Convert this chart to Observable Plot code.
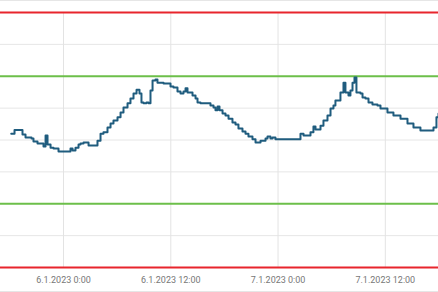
<!DOCTYPE html>
<html>
<head>
<meta charset="utf-8">
<script src="https://cdn.jsdelivr.net/npm/d3@7"></script>
<script src="https://cdn.jsdelivr.net/npm/@observablehq/plot@0.6"></script>
<style>
  html, body { margin: 0; padding: 0; background: #fff; }
  #chart { width: 438px; border-top: 1px solid #e6e6e6; border-bottom: 1px solid #e6e6e6; }
  #chart svg { display: block; }
</style>
</head>
<body>
<div id="chart"></div>
<script>
// hours after 6.1.2023 0:00
const hours = [-5.85,-5.48,-4.92,-4.59,-4.25,-3.58,-3.36,-2.91,-2.46,-2.24,-2.01,-1.79,-1.45,-1.12,-0.56,0.56,0.78,1.01,1.34,1.68,1.90,2.24,2.57,2.80,3.58,3.80,4.14,4.47,4.92,5.26,5.59,6.04,6.38,6.71,7.16,7.49,7.83,8.17,8.50,8.72,8.95,9.28,9.51,9.73,9.96,10.29,10.51,10.85,11.19,11.63,11.97,12.30,12.75,13.09,13.42,13.65,13.87,14.21,14.43,14.77,14.99,15.32,15.66,16.11,16.44,16.78,17.00,17.23,17.45,17.79,18.12,18.46,18.90,19.24,19.57,20.02,20.36,20.69,21.14,21.48,21.81,22.04,22.60,22.82,23.15,23.38,23.71,26.29,26.51,26.85,27.29,27.63,27.96,28.19,28.52,28.75,29.08,29.53,29.87,30.20,30.42,30.98,31.32,31.54,31.88,32.10,32.33,32.55,32.77,33.22,33.45,33.78,34.12,34.56,35.12,35.46,36.24,36.91,37.70,38.48,39.15,39.93,40.49,41.05,41.39,41.72,41.95,42.30];
const values = [52.0,53.1,53.1,51.7,50.8,50.5,49.5,48.9,48.9,48.0,51.4,48.6,47.6,47.3,46.4,46.4,47.3,46.7,47.6,48.6,48.9,49.2,49.2,48.3,48.3,49.8,52.0,52.4,53.9,55.2,56.1,57.1,58.6,60.2,61.5,63.0,64.6,65.8,64.6,61.8,61.5,61.8,61.5,65.5,68.7,69.0,68.0,68.0,67.7,67.7,66.8,66.5,65.2,64.6,65.2,66.2,64.9,64.9,64.0,63.0,61.8,61.5,61.5,61.5,60.8,60.2,59.3,60.5,59.3,58.3,57.7,56.7,55.5,54.9,53.6,52.7,52.0,51.1,50.2,49.2,49.2,49.8,50.5,51.1,50.5,50.8,50.2,50.2,52.0,51.4,51.4,52.4,54.2,53.3,53.3,54.5,56.1,57.7,59.9,60.8,62.4,64.9,68.0,64.9,64.0,65.5,68.0,69.6,64.9,64.6,63.3,63.0,61.8,61.1,60.8,59.9,58.6,57.7,56.7,55.2,53.9,53.0,53.0,53.0,53.9,57.1,58.3,60.0];
const tickHours = [0, 12, 24, 36];
const gridValues = [20, 40, 50, 60, 80];
const alarmLimits = [10, 90];
const warnLimits = [30, 70];
const domainHours = [-7.05, 41.95];

const base = Date.UTC(2023, 0, 6);
const toDate = h => new Date(base + h * 3600e3);
const data = hours.map((h, i) => ({date: toDate(h), value: values[i]}));
const ticks = tickHours.map(toDate);
const fmt = d => `${d.getUTCDate()}.${d.getUTCMonth() + 1}.${d.getUTCFullYear()} ${d.getUTCHours()}:${String(d.getUTCMinutes()).padStart(2, "0")}`;

const chart = Plot.plot({
  width: 438,
  height: 290,
  marginTop: 11,
  marginBottom: 24,
  marginLeft: 0,
  marginRight: 0,
  style: {fontFamily: "Roboto, sans-serif", fontSize: "9px", color: "#777", background: "#fff"},
  x: {type: "utc", domain: domainHours.map(toDate), axis: null},
  y: {domain: [10, 90], axis: null},
  marks: [
    Plot.ruleY(gridValues, {stroke: "#e6e6e6", strokeWidth: 1}),
    Plot.ruleX(ticks, {stroke: "#e3e3e3", strokeWidth: 1}),
    Plot.ruleY(warnLimits, {stroke: "#6cbf4a", strokeWidth: 1.8}),
    Plot.ruleY(alarmLimits, {stroke: "#e8252c", strokeWidth: 1.8}),
    Plot.line(data, {x: "date", y: "value", stroke: "#1f5c7e", strokeWidth: 2, curve: "step-after", clip: true}),
    Plot.axisX(ticks, {tickSize: 0, tickPadding: 9, tickFormat: fmt, fill: "#777"})
  ]
});
document.getElementById("chart").appendChild(chart);
</script>
</body>
</html>
